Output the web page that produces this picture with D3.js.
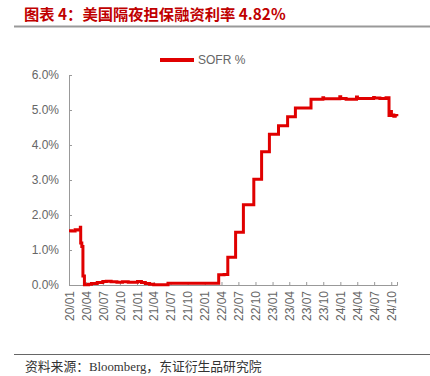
<!DOCTYPE html>
<html>
<head>
<meta charset="utf-8">
<style>
  body { margin: 0; background: #fff; }
  svg text { font-family: "Liberation Sans", Arial, sans-serif; }
</style>
</head>
<body>
<div id="chart"></div>
<script src="https://cdn.jsdelivr.net/npm/d3@7"></script>
<script>
// SOFR change points (date, % value)
const dates = [
  "2020-01-01","2020-01-15","2020-02-03","2020-02-20","2020-03-02","2020-03-04","2020-03-10","2020-03-16",
  "2020-03-24","2020-04-15","2020-05-01","2020-06-01","2020-07-01","2020-07-20","2020-08-15","2020-09-15",
  "2020-10-15","2020-11-15","2020-12-15","2021-01-04","2021-01-25","2021-02-15","2021-03-10","2021-04-01",
  "2021-06-17","2021-09-01","2021-12-01","2022-03-17","2022-04-15","2022-05-05","2022-06-16","2022-07-28",
  "2022-09-22","2022-11-03","2022-12-15","2023-02-02","2023-03-23","2023-05-04","2023-07-27","2023-09-29",
  "2023-10-03","2023-12-29","2024-01-03","2024-02-01","2024-03-28","2024-04-02","2024-06-28","2024-07-02",
  "2024-08-01","2024-09-03","2024-09-19","2024-09-30","2024-10-02","2024-10-15","2024-10-22","2024-10-31"
];
const sofr = [
  1.55,1.54,1.58,1.57,1.65,1.20,1.10,0.26,
  0.01,0.02,0.04,0.07,0.10,0.11,0.09,0.08,
  0.09,0.08,0.08,0.10,0.07,0.04,0.02,0.01,
  0.05,0.05,0.05,0.29,0.30,0.79,1.51,2.29,
  3.02,3.81,4.31,4.55,4.81,5.06,5.31,5.35,
  5.32,5.38,5.33,5.31,5.37,5.33,5.36,5.34,
  5.33,5.35,4.84,4.96,4.86,4.82,4.84,4.82
];
const yTicks = [0, 1, 2, 3, 4, 5, 6];
const xTickLabels = ["20/01","20/04","20/07","20/10","21/01","21/04","21/07","21/10","22/01","22/04",
  "22/07","22/10","23/01","23/04","23/07","23/10","24/01","24/04","24/07","24/10"];
const seriesName = "SOFR %";

const W = 430, H = 376;
const parse = d3.timeParse("%Y-%m-%d");
const data = dates.map((d, i) => ({ date: parse(d), v: sofr[i] }));
const tickDates = xTickLabels.map(s => parse("20" + s.slice(0, 2) + "-" + s.slice(3) + "-01"));

const svg = d3.select("#chart").append("svg").attr("width", W).attr("height", H);

// title
svg.append("text").attr("x", 24).attr("y", 20)
  .style("font-family", "'Noto Sans CJK SC', sans-serif")
  .style("font-size", "15.3px").style("font-weight", "bold").attr("fill", "#c00000")
  .text("图表 4：美国隔夜担保融资利率 4.82%");
svg.append("line").attr("x1", 14).attr("x2", W).attr("y1", 26.5).attr("y2", 26.5)
  .attr("stroke", "#999").attr("stroke-width", 2);

const x = d3.scaleTime().domain([parse("2020-01-01"), parse("2024-11-01")]).range([69, 397]);
const y = d3.scaleLinear().domain([0, 6]).range([285, 75]);

// y axis
const yAxis = svg.append("g").attr("transform", "translate(69,0)")
  .call(d3.axisLeft(y).tickValues(yTicks).tickSize(-3).tickPadding(10)
    .tickFormat(d => d.toFixed(1) + "%"));
yAxis.selectAll("text").attr("fill", "#666").style("font-size", "12px");

// x axis
const xAxis = svg.append("g").attr("transform", "translate(0,285)")
  .call(d3.axisBottom(x).tickValues(tickDates).tickSize(-3).tickPadding(6)
    .tickFormat((d, i) => xTickLabels[i]));
xAxis.selectAll("text").attr("fill", "#666").style("font-size", "12px")
  .attr("text-anchor", "end").attr("transform", "rotate(-90)")
  .attr("x", -6).attr("y", 0).attr("dy", "0.35em");

svg.selectAll(".domain, .tick line").attr("stroke", "#999");

// line
const line = d3.line().x(d => x(d.date)).y(d => y(d.v)).curve(d3.curveStepAfter);
svg.append("path").datum(data).attr("d", line)
  .attr("fill", "none").attr("stroke", "#e00000").attr("stroke-width", 3);

// legend
svg.append("line").attr("x1", 160).attr("x2", 194).attr("y1", 60).attr("y2", 60)
  .attr("stroke", "#e00000").attr("stroke-width", 4);
svg.append("text").attr("x", 198).attr("y", 64).attr("fill", "#666")
  .style("font-size", "12px").text(seriesName);

// source
svg.append("line").attr("x1", 14).attr("x2", W).attr("y1", 354.5).attr("y2", 354.5)
  .attr("stroke", "#666").attr("stroke-width", 1);
svg.append("text").attr("x", 25).attr("y", 371)
  .style("font-family", "'Liberation Serif', 'Noto Sans CJK SC', serif")
  .style("font-size", "12.8px").attr("fill", "#333")
  .text("资料来源：Bloomberg，东证衍生品研究院");
</script>
</body>
</html>
